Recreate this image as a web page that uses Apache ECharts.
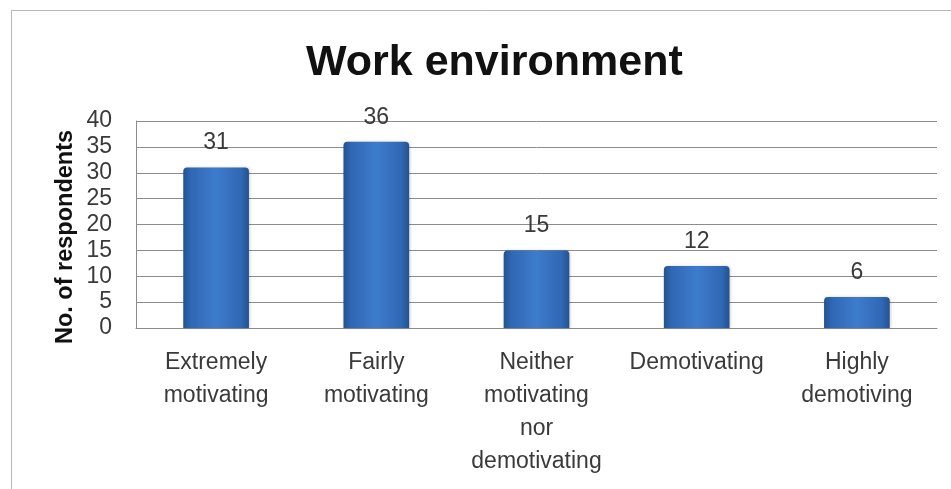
<!DOCTYPE html>
<html>
<head>
<meta charset="utf-8">
<script src="https://cdn.jsdelivr.net/npm/echarts@6/dist/echarts.min.js"></script>
<style>
  html, body { margin: 0; padding: 0; background: #ffffff; }
  #chart { width: 951px; height: 489px; }
</style>
</head>
<body>
<div id="chart"></div>
<script>
// Survey responses: how the work environment affects motivation
var categories = [
  'Extremely\nmotivating',
  'Fairly\nmotivating',
  'Neither\nmotivating\nnor\ndemotivating',
  'Demotivating',
  'Highly\ndemotiving'
];
var respondents = [31, 36, 15, 12, 6];
var yTicks = { min: 0, max: 40, interval: 5 };
var yAxisTitle = 'No. of respondents';

var FONT = '"Liberation Sans", Arial, sans-serif';

var barFill = new echarts.graphic.LinearGradient(0, 0, 1, 0, [
  { offset: 0, color: '#24528f' },
  { offset: 0.12, color: '#2f68b4' },
  { offset: 0.5, color: '#3d7ccc' },
  { offset: 0.88, color: '#2f68b4' },
  { offset: 1, color: '#24528f' }
]);

var chart = echarts.init(document.getElementById('chart'), null, { renderer: 'canvas' });

chart.setOption({
  backgroundColor: '#ffffff',
  animation: false,
  title: {
    text: 'Work environment',
    left: 301,
    top: 37,
    textStyle: { fontFamily: FONT, fontSize: 43, fontWeight: 'bold', color: '#111111' }
  },
  graphic: [{
    type: 'rect',
    shape: { x: 11.5, y: 10.5, width: 1000, height: 600 },
    style: { fill: 'none', stroke: '#b8b8b8', lineWidth: 1 },
    silent: true
  }, {
    // vertical axis title, rotated to read bottom-to-top
    type: 'text',
    x: 66,
    y: 237,
    rotation: Math.PI / 2,
    style: {
      text: yAxisTitle,
      fontFamily: FONT,
      fontSize: 23.5,
      fontWeight: 'bold',
      fill: '#111111',
      align: 'center',
      verticalAlign: 'middle'
    },
    silent: true
  }],
  grid: { left: 136, right: 14, top: 121, bottom: 161 },
  xAxis: {
    type: 'category',
    data: categories,
    axisLine: { show: true, lineStyle: { color: '#8c8c8c', width: 1 } },
    axisTick: { show: false },
    axisLabel: {
      interval: 0,
      margin: 18,
      fontFamily: FONT,
      fontSize: 23,
      lineHeight: 33,
      color: '#3a3a3a'
    }
  },
  yAxis: {
    type: 'value',
    min: yTicks.min,
    max: yTicks.max,
    interval: yTicks.interval,
    axisLine: { show: true, lineStyle: { color: '#8c8c8c', width: 1 } },
    axisTick: { show: false },
    axisLabel: { fontFamily: FONT, fontSize: 23, color: '#3a3a3a', margin: 24 },
    splitLine: { show: true, lineStyle: { color: '#8c8c8c', width: 1 } }
  },
  series: [{
    type: 'bar',
    data: respondents,
    barWidth: '41%',
    itemStyle: {
      color: barFill,
      borderRadius: [4, 4, 0, 0],
      shadowColor: 'rgba(0,0,0,0.18)',
      shadowBlur: 3,
      shadowOffsetX: 1
    },
    label: {
      show: true,
      position: 'top',
      distance: 13,
      fontFamily: FONT,
      fontSize: 23,
      color: '#3a3a3a'
    }
  }]
});
</script>
</body>
</html>
